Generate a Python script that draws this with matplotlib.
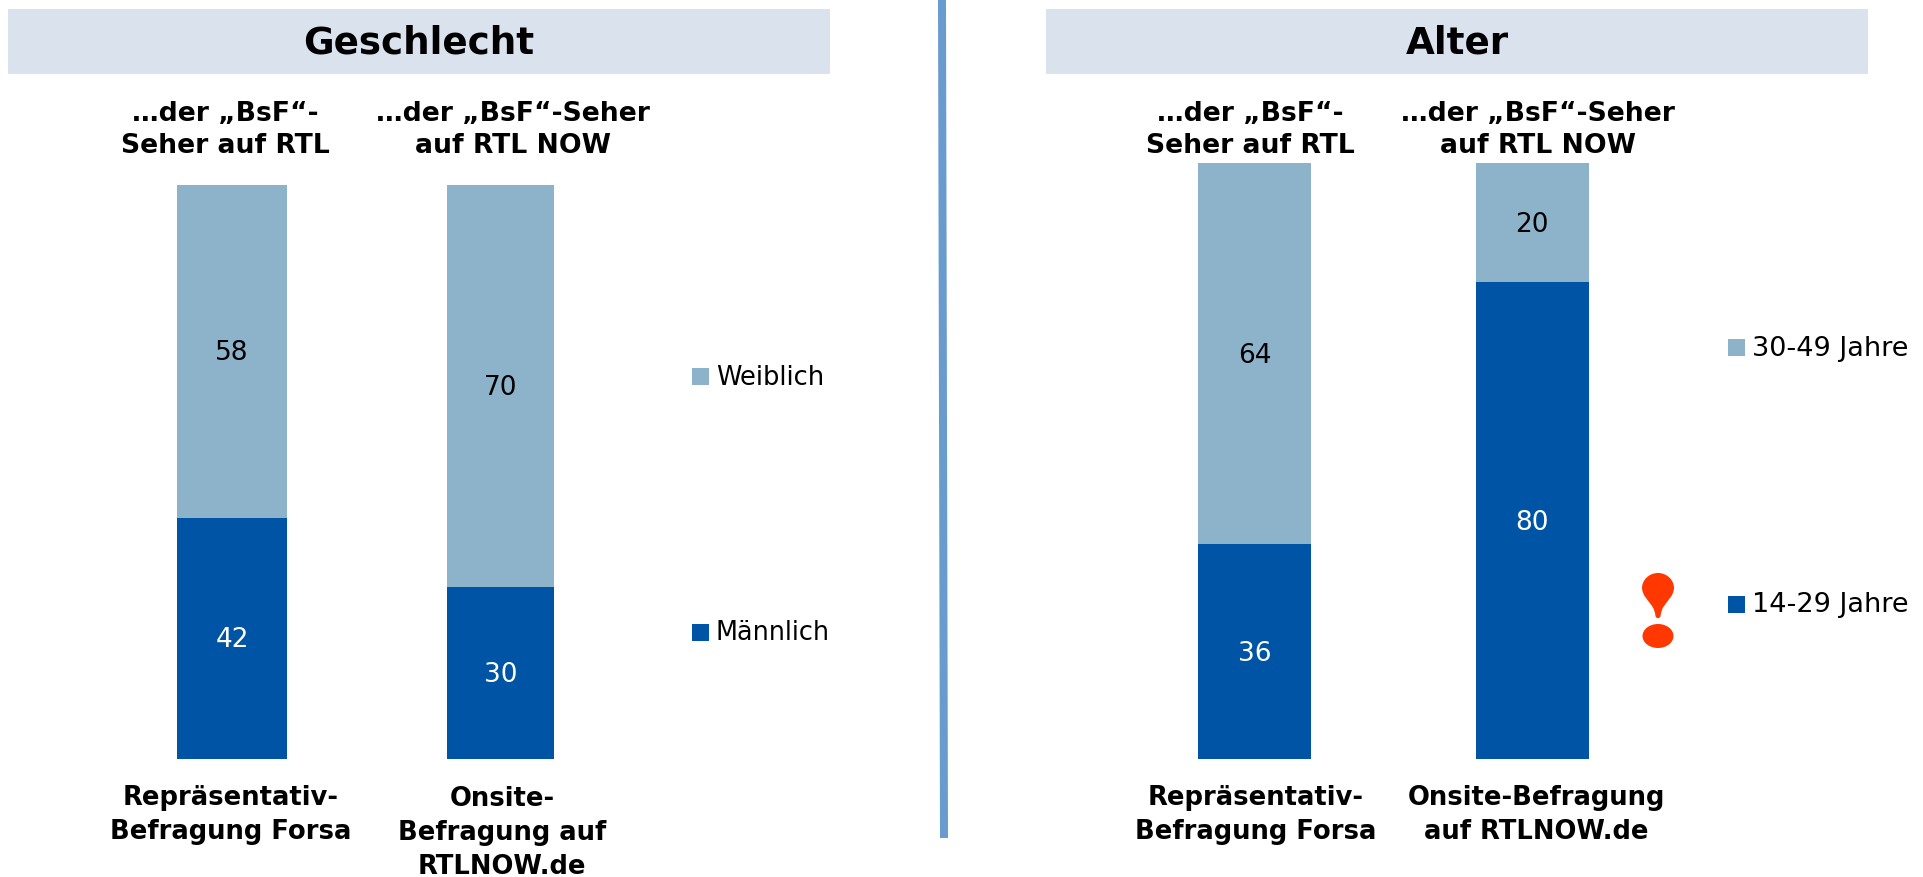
import matplotlib
matplotlib.use('Agg')
from matplotlib import pyplot as plt
from matplotlib.patches import Rectangle, Ellipse, PathPatch, Polygon
from matplotlib.path import Path

W, H = 1923, 877

# data
geschlecht_maennlich = [42, 30]
geschlecht_weiblich = [58, 70]
alter_jung = [36, 80]
alter_alt = [64, 20]

top_left = ['…der „BsF“-\nSeher auf RTL', '…der „BsF“-Seher\nauf RTL NOW']
top_right = ['…der „BsF“-\nSeher auf RTL', '…der „BsF“-Seher\nauf RTL NOW']
bottom_left = ['Repräsentativ-\nBefragung Forsa', 'Onsite-\nBefragung auf\nRTLNOW.de']
bottom_right = ['Repräsentativ-\nBefragung Forsa', 'Onsite-Befragung\nauf RTLNOW.de']

dark = '#0054A6'
light = '#8DB3CB'
band = '#DAE2EE'

plt.rcParams['font.family'] = ['DejaVu Sans']
fig = plt.figure(figsize=(W / 100, H / 100), dpi=100)


def fx(px):
    return px / W


def fy(py):
    return 1 - py / H


def add_text(px, py, s, spacing=1.1, **kw):
    fig.text(fx(px), fy(py), s, va='center', linespacing=spacing, **kw)


def value_label(ax, i, y, s, color):
    # nudged 2 px down, the labels sit a little low in the reference
    ax.annotate(s, (i, y), xytext=(0, -1.4), textcoords='offset points', color=color,
                ha='center', va='center', fontsize=19)


def add_panel(x0, x1, top, low, high, bar_w, ticks_top, ticks_bottom, x_top, x_bottom, y_bottom):
    ax = fig.add_axes([fx(x0), fy(759), (x1 - x0) / W, (759 - top) / H])
    ax.bar([0, 1], low, width=bar_w, color=dark)
    ax.bar([0, 1], high, width=bar_w, bottom=low, color=light)
    for i in range(2):
        value_label(ax, i, low[i] / 2, str(low[i]), 'white')
        value_label(ax, i, low[i] + high[i] / 2, str(high[i]), 'black')
    ax.set_xlim(-0.5, 1.5)
    ax.set_ylim(0, 100)
    ax.axis('off')
    for i in range(2):
        add_text(x_top[i], 130, ticks_top[i], spacing=1.3, ha='center', fontsize=19.2, fontweight='bold')
        add_text(x_bottom[i], y_bottom[i], ticks_bottom[i], spacing=1.4, ha='center', fontsize=18.6, fontweight='bold')


def add_legend(px, py, color, s, size):
    fig.add_artist(Rectangle((fx(px), fy(py + 8.5)), 17 / W, 17 / H, transform=fig.transFigure, color=color, lw=0))
    add_text(px + 24, py + 1, s, ha='left', fontsize=size)


# header bands
for x0, x1, s in [(8, 830, 'Geschlecht'), (1046, 1868, 'Alter')]:
    fig.add_artist(Rectangle((fx(x0), fy(74)), (x1 - x0) / W, 65 / H, transform=fig.transFigure, color=band, lw=0))
    add_text((x0 + x1) / 2, 43, s, ha='center', fontsize=26.8, fontweight='bold')

# separator
fig.add_artist(Polygon([(fx(938), fy(0)), (fx(946), fy(0)), (fx(948), fy(838)), (fx(940), fy(838))],
                       transform=fig.transFigure, color='#6A9BCF', lw=0))

add_panel(97.75, 634.75, 185, geschlecht_maennlich, geschlecht_weiblich, [0.41, 0.402],
          top_left, bottom_left, [225, 513], [231, 502], [815, 833])
add_panel(1116, 1671, 163, alter_jung, alter_alt, 0.407,
          top_right, bottom_right, [1250, 1538], [1256, 1536], [815, 815])

add_legend(692, 377, light, 'Weiblich', 18.5)
add_legend(692, 632, dark, 'Männlich', 18.4)
add_legend(1728, 348, light, '30-49 Jahre', 19.5)
add_legend(1728, 604, dark, '14-29 Jahre', 19.5)

# exclamation mark
red = '#FF3700'
cx = 1658
right = [(cx, 573), (cx + 9, 573), (cx + 16, 580), (cx + 16, 588),
         (cx + 15.5, 596), (cx + 10, 600), (cx + 6, 606),
         (cx + 4, 609), (cx + 3, 612), (cx + 2.5, 616),
         (cx + 2, 618), (cx + 1, 618), (cx, 618)]
left = [(2 * cx - a, b) for a, b in right[-2::-1]]
verts = right + left
codes = [Path.MOVETO] + [Path.CURVE4] * (len(verts) - 1)
drop = Path([(fx(a), fy(b)) for a, b in verts], codes)
fig.add_artist(PathPatch(drop, transform=fig.transFigure, color=red, lw=0))
fig.add_artist(Ellipse((fx(cx), fy(636)), 31 / W, 24 / H, transform=fig.transFigure, color=red, lw=0))

fig.savefig('out.png', dpi=100)
